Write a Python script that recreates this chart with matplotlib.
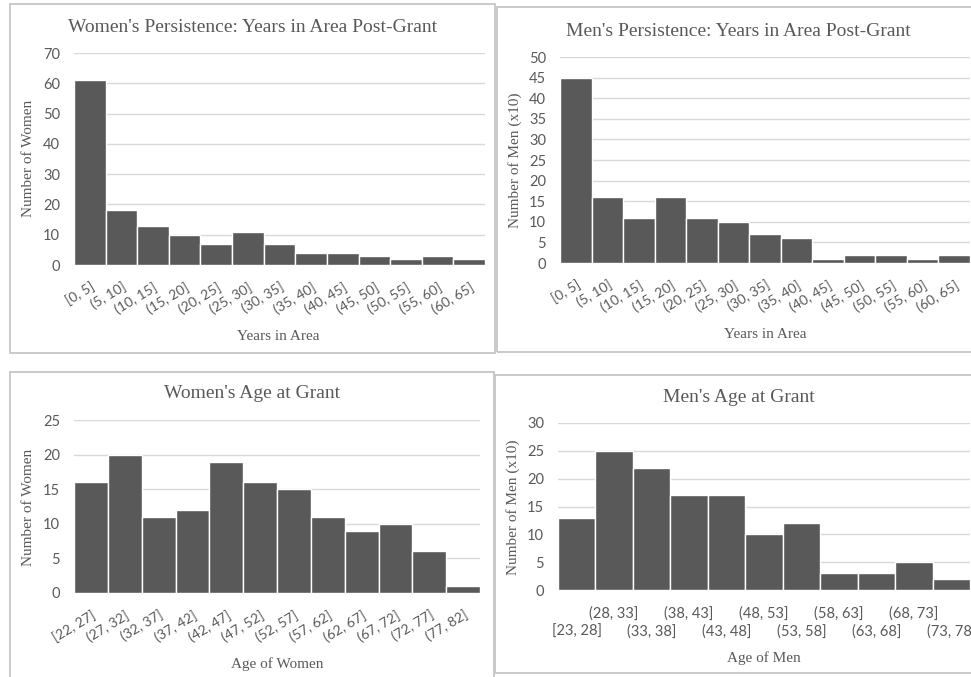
import matplotlib
matplotlib.use("Agg")
import matplotlib.pyplot as plt
from matplotlib.patches import Rectangle

# Histogram counts for each panel
years_labels = ["[0, 5]", "(5, 10]", "(10, 15]", "(15, 20]", "(20, 25]", "(25, 30]",
                "(30, 35]", "(35, 40]", "(40, 45]", "(45, 50]", "(50, 55]",
                "(55, 60]", "(60, 65]"]
women_years = [61, 18, 13, 10, 7, 11, 7, 4, 4, 3, 2, 3, 2]
men_years = [45, 16, 11, 16, 11, 10, 7, 6, 1, 2, 2, 1, 2]

women_age_labels = ["[22, 27]", "(27, 32]", "(32, 37]", "(37, 42]", "(42, 47]",
                    "(47, 52]", "(52, 57]", "(57, 62]", "(62, 67]", "(67, 72]",
                    "(72, 77]", "(77, 82]"]
women_age = [16, 20, 11, 12, 19, 16, 15, 11, 9, 10, 6, 1]

men_age_labels = ["[23, 28]", "(28, 33]", "(33, 38]", "(38, 43]", "(43, 48]",
                  "(48, 53]", "(53, 58]", "(58, 63]", "(63, 68]", "(68, 73]",
                  "(73, 78]"]
men_age = [13, 25, 22, 17, 17, 10, 12, 3, 3, 5, 2]

W, H = 971, 677
BAR = "#595959"
TXT = "#595959"
GRID = "#d9d9d9"
SERIF = "Liberation Serif"
SANS = "Lato"

fig = plt.figure(figsize=(W / 100, H / 100), dpi=100)


def fx(x):
    return x / W


def fy(y):
    return 1 - y / H


def panel_box(x0, y0, x1, y1):
    fig.patches.append(Rectangle((fx(x0), fy(y1)), fx(x1 - x0), (y1 - y0) / H,
                                 transform=fig.transFigure, fill=False,
                                 edgecolor="#c6c6c6", linewidth=1.3))


def make_axes(x0, y0, x1, y1):
    return fig.add_axes([fx(x0), fy(y1), fx(x1 - x0), (y1 - y0) / H])


def histogram(ax, values, ymax, step):
    n = len(values)
    ax.bar(range(n), values, width=1.0, color=BAR, edgecolor="white", linewidth=1.0,
           zorder=3)
    ax.set_xlim(-0.5, n - 0.5)
    ax.set_ylim(0, ymax)
    ax.set_yticks(range(0, ymax + 1, step))
    ax.grid(axis="y", color=GRID, linewidth=1.0, zorder=0)
    for s in ax.spines.values():
        s.set_visible(False)
    ax.tick_params(which="both", length=0, colors=TXT)
    ax.tick_params(axis="y", pad=10, labelsize=10.5)
    for t in ax.get_yticklabels():
        t.set_fontfamily(SANS)


def rotated_labels(ax, labels):
    ax.set_xticks(range(len(labels)))
    ax.set_xticklabels(labels, rotation=31, ha="right", rotation_mode="anchor",
                       fontfamily=SANS, fontsize=10, color=TXT)
    ax.tick_params(axis="x", pad=11)


def ylabel(x, y, text):
    fig.text(fx(x), fy(y), text, family=SERIF, fontsize=11, color=TXT,
             rotation=90, ha="center", va="center")


def xlabel(x, y, text):
    fig.text(fx(x), fy(y), text, family=SERIF, fontsize=11, color=TXT,
             ha="center", va="center")


def title(x, y, text):
    fig.text(fx(x), fy(y), text, family=SERIF, fontsize=14, color=TXT,
             ha="center", va="center")


# panel frames
panel_box(10, 4, 495, 353)
panel_box(497, 7, 975, 352)
panel_box(10, 372, 494, 680)
panel_box(495, 375, 975, 673)

# Women's persistence
ax1 = make_axes(74, 53, 485, 265)
histogram(ax1, women_years, 70, 10)
rotated_labels(ax1, years_labels)
title(253, 27, "Women's Persistence: Years in Area Post-Grant")
ylabel(28, 158, "Number of Women")
xlabel(278, 336, "Years in Area")

# Men's persistence
ax2 = make_axes(560, 57, 970, 263)
histogram(ax2, men_years, 50, 5)
rotated_labels(ax2, years_labels)
title(738, 31, "Men's Persistence: Years in Area Post-Grant")
ylabel(515, 160, "Number of Men (x10)")
xlabel(765, 334, "Years in Area")

# Women's age at grant
ax3 = make_axes(74, 420, 480, 593)
histogram(ax3, women_age, 25, 5)
rotated_labels(ax3, women_age_labels)
title(252, 393, "Women's Age at Grant")
ylabel(28, 507, "Number of Women")
xlabel(277, 664, "Age of Women")

# Men's age at grant: labels staggered over two rows
ax4 = make_axes(558, 423, 970, 590)
histogram(ax4, men_age, 30, 5)
idx = list(range(len(men_age_labels)))
ax4.set_xticks(idx[0::2], labels=men_age_labels[0::2])
ax4.set_xticks(idx[1::2], labels=men_age_labels[1::2], minor=True)
for t in ax4.get_xticklabels(which="both"):
    t.set_fontfamily(SANS)
    t.set_fontsize(10.5)
    t.set_color(TXT)
ax4.tick_params(axis="x", which="minor", pad=12)
ax4.tick_params(axis="x", which="major", pad=25)
title(739, 397, "Men's Age at Grant")
ylabel(513, 507, "Number of Men (x10)")
xlabel(764, 658, "Age of Men")

fig.savefig("out.png", dpi=100)
